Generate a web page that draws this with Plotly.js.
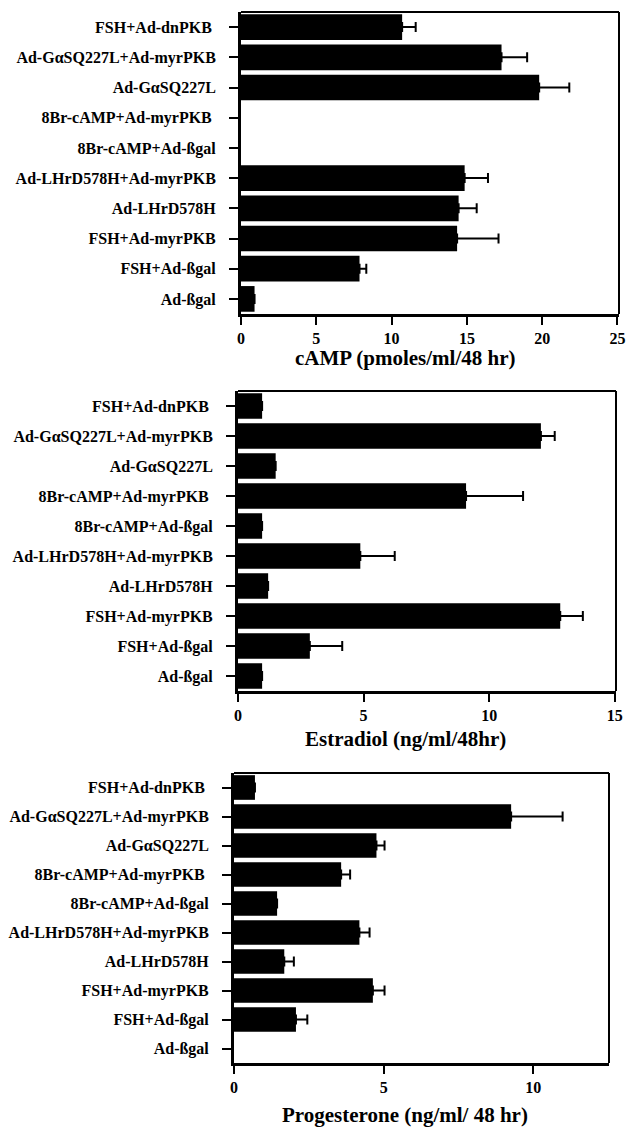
<!DOCTYPE html>
<html>
<head>
<meta charset="utf-8">
<script src="https://cdn.plot.ly/plotly-3.0.1.min.js"></script>
<style>html,body{margin:0;padding:0;background:#fff;}#chart{width:632px;height:1127px;}</style>
</head>
<body>
<div id="chart"></div>
<script>
// categories, top to bottom
const categories = [
  "FSH+Ad-dnPKB ",
  "Ad-GαSQ227L+Ad-myrPKB",
  "Ad-GαSQ227L",
  "8Br-cAMP+Ad-myrPKB ",
  "8Br-cAMP+Ad-ßgal",
  "Ad-LHrD578H+Ad-myrPKB",
  "Ad-LHrD578H",
  "FSH+Ad-myrPKB",
  "FSH+Ad-ßgal",
  "Ad-ßgal"
];

// null = no bar drawn in the reference
const campValues = [10.7, 17.3, 19.8, null, null, 14.85, 14.45, 14.35, 7.87, 0.9];
const campErrors = [0.9, 1.7, 2.0, 0, 0, 1.55, 1.2, 2.75, 0.45, 0];

const estradiolValues = [0.96, 12.06, 1.5, 9.08, 0.96, 4.87, 1.2, 12.83, 2.86, 0.96];
const estradiolErrors = [0, 0.55, 0, 2.27, 0, 1.37, 0, 0.9, 1.29, 0];

const progesteroneValues = [0.7, 9.26, 4.76, 3.58, 1.44, 4.19, 1.68, 4.64, 2.07, null];
const progesteroneErrors = [0, 1.72, 0.27, 0.3, 0, 0.34, 0.32, 0.39, 0.38, 0];

const xTitles = ["cAMP (pmoles/ml/48 hr)", "Estradiol (ng/ml/48hr)", "Progesterone (ng/ml/ 48 hr)"];

const W = 632, H = 1127;
const serif = "Liberation Serif, Times New Roman, serif";

function barTrace(vals, errs, xa, ya) {
  return {
    type: "bar",
    orientation: "h",
    x: vals,
    y: categories,
    xaxis: xa,
    yaxis: ya,
    marker: {color: "#000000", line: {width: 0}},
    error_x: {
      type: "data",
      symmetric: false,
      array: errs,
      arrayminus: errs.map(() => 0),
      color: "#000000",
      thickness: 2,
      width: 5
    },
    hoverinfo: "x+y",
    showlegend: false
  };
}

const data = [
  barTrace(campValues, campErrors, "x", "y"),
  barTrace(estradiolValues, estradiolErrors, "x2", "y2"),
  barTrace(progesteroneValues, progesteroneErrors, "x3", "y3")
];

// panel pixel boxes [left, right, top, bottom]
const boxes = [
  [241, 619, 12, 314],
  [238, 616, 391, 691],
  [234, 609, 773, 1063]
];
const ranges = [[0, 25.1], [0, 15.05], [0, 12.53]];
const titleY = [358, 739, 1115];

function xdom(b){ return [b[0]/W, b[1]/W]; }
function ydom(b){ return [1 - b[3]/H, 1 - b[2]/H]; }

const layout = {
  width: W, height: H,
  margin: {l: 0, r: 0, t: 0, b: 0},
  paper_bgcolor: "#ffffff",
  plot_bgcolor: "#ffffff",
  bargap: 0.15,
  font: {family: serif, color: "#000000"},
  shapes: [],
  annotations: []
};

for (let i = 0; i < 3; i++) {
  const s = i === 0 ? "" : String(i + 1);
  const b = boxes[i];
  layout["xaxis" + s] = {
    domain: xdom(b),
    anchor: "y" + s,
    range: ranges[i],
    tickmode: "linear", tick0: 0, dtick: 5,
    showgrid: false, zeroline: false,
    showline: true, linecolor: "#000", linewidth: 3,
    ticks: "outside", ticklen: 8, tickwidth: 2, tickcolor: "#000",
    tickfont: {family: serif, size: 16, color: "#000", weight: "bold"},
    fixedrange: true
  };
  layout["yaxis" + s] = {
    domain: ydom(b),
    anchor: "x" + s,
    type: "category",
    categoryorder: "array",
    categoryarray: categories,
    autorange: "reversed",
    showgrid: false, zeroline: false,
    showline: true, linecolor: "#000", linewidth: 3,
    ticks: "outside", ticklen: 9, tickwidth: 2, tickcolor: "#000",
    ticklabelstandoff: 10,
    tickfont: {family: serif, size: 16, color: "#000", weight: "bold"},
    fixedrange: true
  };
  // top and right borders
  layout.shapes.push({
    type: "line", xref: "paper", yref: "paper",
    x0: b[0]/W, x1: b[1]/W, y0: 1 - b[2]/H, y1: 1 - b[2]/H,
    line: {color: "#000", width: 2}
  });
  layout.shapes.push({
    type: "line", xref: "paper", yref: "paper",
    x0: b[1]/W, x1: b[1]/W, y0: 1 - b[2]/H, y1: 1 - b[3]/H,
    line: {color: "#000", width: 2}
  });
  layout.annotations.push({
    text: xTitles[i],
    xref: "paper", yref: "paper",
    x: 405/W, y: 1 - titleY[i]/H,
    xanchor: "center", yanchor: "middle",
    showarrow: false,
    font: {family: serif, size: 21, color: "#000", weight: "bold"}
  });
}

Plotly.newPlot("chart", data, layout, {displayModeBar: false, staticPlot: true});
</script>
</body>
</html>
